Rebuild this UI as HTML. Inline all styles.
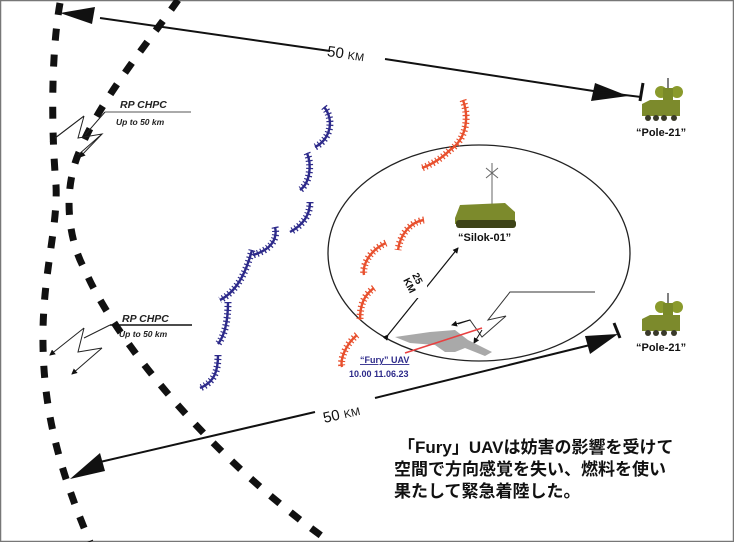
<!DOCTYPE html>
<html><head><meta charset="utf-8"><style>
html,body{margin:0;padding:0;background:#fff}
svg{display:block}
.jp{font-family:"Liberation Sans","Noto Sans CJK JP",sans-serif;font-weight:bold;font-size:17px;fill:#111}
.lb{font-family:"Liberation Sans",sans-serif;font-weight:bold;font-size:11px;fill:#111}
.it{font-family:"Liberation Sans",sans-serif;font-style:italic;font-weight:bold;fill:#222}
</style></head><body>
<svg width="734" height="542" viewBox="0 0 734 542" xmlns="http://www.w3.org/2000/svg">
<rect x="0.5" y="0.5" width="733" height="541" fill="#fff" stroke="#777" stroke-width="1.5"/>
<defs>
<marker id="sa" markerWidth="6" markerHeight="6" refX="5" refY="3" orient="auto" markerUnits="userSpaceOnUse"><path d="M0,0 L6,3 L0,6z" fill="#111"/></marker>
</defs>
<!-- dashed curves -->
<g fill="none" stroke="#111" stroke-width="7" stroke-dasharray="12 14">
<path d="M60,3 C50,60 52,140 56,185 C58,225 44,270 43,330 C42,400 55,460 90,542"/>
<path d="M178,0 C150,40 100,100 80,150 C62,190 68,240 85,270 C110,330 200,450 330,542"/>
</g>
<!-- top 50 km arrow -->
<line x1="100" y1="18" x2="330" y2="51" stroke="#111" stroke-width="2"/>
<line x1="385" y1="59" x2="600" y2="92" stroke="#111" stroke-width="2"/>
<path d="M60,13 L95,7 L92,24z" fill="#111"/>
<path d="M628,96 L595,83 L591,101z" fill="#111"/>
<line x1="643" y1="83" x2="640" y2="101" stroke="#111" stroke-width="3"/>
<line x1="600" y1="92" x2="641" y2="97" stroke="#111" stroke-width="2"/>
<text x="327" y="60" transform="rotate(8 355 55)" font-family="Liberation Sans,sans-serif" font-size="15" fill="#111">50 <tspan font-size="11">KM</tspan></text>
<!-- bottom 50 km arrow -->
<line x1="100" y1="462" x2="315" y2="412" stroke="#111" stroke-width="2"/>
<line x1="375" y1="398" x2="590" y2="345" stroke="#111" stroke-width="2"/>
<path d="M70,479 L100,453 L105,471z" fill="#111"/>
<path d="M618,334 L585,336 L590,354z" fill="#111"/>
<line x1="614" y1="323" x2="620" y2="338" stroke="#111" stroke-width="3"/>
<text x="322" y="418" transform="rotate(-13 345 410)" font-family="Liberation Sans,sans-serif" font-size="15" fill="#111">50 <tspan font-size="11">KM</tspan></text>
<!-- RP CHPC top -->
<text x="120" y="108" class="it" font-size="10.5">RP CHPC</text>
<line x1="105" y1="112" x2="191" y2="112" stroke="#555" stroke-width="1"/>
<text x="116" y="125" class="it" font-size="8.5">Up to 50 km</text>
<path d="M105,112 L85,135 M84,116 L78,138 L102,134 L78,155 M84,116 L50,142" fill="none" stroke="#222" stroke-width="1" />
<line x1="84" y1="116" x2="51" y2="141" stroke="#222" stroke-width="1" marker-end="url(#sa)"/>
<line x1="102" y1="134" x2="80" y2="157" stroke="#222" stroke-width="1" marker-end="url(#sa)"/>
<!-- RP CHPC bottom -->
<text x="122" y="322" class="it" font-size="10.5">RP CHPC</text>
<line x1="110" y1="325" x2="192" y2="325" stroke="#111" stroke-width="1.5"/>
<text x="119" y="337" class="it" font-size="8.5">Up to 50 km</text>
<line x1="110" y1="325" x2="84" y2="338" stroke="#222" stroke-width="1"/>
<path d="M84,328 L78,352 L102,348" fill="none" stroke="#222" stroke-width="1"/>
<line x1="84" y1="328" x2="50" y2="355" stroke="#222" stroke-width="1" marker-end="url(#sa)"/>
<line x1="102" y1="348" x2="72" y2="374" stroke="#222" stroke-width="1" marker-end="url(#sa)"/>
<!-- purple arcs -->
<g fill="none" stroke="#2d2a8a">
<g stroke-width="2.4">
<path d="M324,107 C335,120 330,140 315,147"/>
<path d="M307,153 C312,165 310,183 300,190"/>
<path d="M310,202 C310,215 303,225 290,232"/>
<path d="M275,227 C278,240 270,250 253,255"/>
<path d="M252,250 C248,265 240,290 220,300"/>
<path d="M228,302 C228,320 225,335 218,344"/>
<path d="M218,355 C218,370 215,382 200,388"/>
</g>
<g stroke-width="7" stroke-dasharray="1.2 2.6">
<path d="M324,107 C335,120 330,140 315,147"/>
<path d="M307,153 C312,165 310,183 300,190"/>
<path d="M310,202 C310,215 303,225 290,232"/>
<path d="M275,227 C278,240 270,250 253,255"/>
<path d="M252,250 C248,265 240,290 220,300"/>
<path d="M228,302 C228,320 225,335 218,344"/>
<path d="M218,355 C218,370 215,382 200,388"/>
</g>
</g>
<!-- ellipse -->
<ellipse cx="479" cy="253" rx="151" ry="108" fill="none" stroke="#222" stroke-width="1.3"/>
<!-- red arcs -->
<g fill="none" stroke="#e8502e">
<g stroke-width="2.4">
<path d="M463,100 C470,120 465,140 450,150 C440,160 430,165 422,168"/>
<path d="M424,220 C410,222 400,235 398,250"/>
<path d="M386,243 C370,250 362,265 364,275"/>
<path d="M374,288 C364,295 360,305 360,320"/>
<path d="M357,335 C345,345 340,360 342,367"/>
</g>
<g stroke-width="7" stroke-dasharray="1.2 2.6">
<path d="M463,100 C470,120 465,140 450,150 C440,160 430,165 422,168"/>
<path d="M424,220 C410,222 400,235 398,250"/>
<path d="M386,243 C370,250 362,265 364,275"/>
<path d="M374,288 C364,295 360,305 360,320"/>
<path d="M357,335 C345,345 340,360 342,367"/>
</g>
</g>
<!-- Silok-01 vehicle -->
<line x1="492" y1="165" x2="492" y2="205" stroke="#666" stroke-width="1"/>
<path d="M486,168 L498,178 M498,168 L486,178 M492,163 L492,180" stroke="#666" stroke-width="1"/>
<path d="M455,218 L460,205 L505,203 L515,212 L515,222 L455,224z" fill="#7c8a2c"/>
<rect x="456" y="220" width="60" height="8" rx="3" fill="#3e4418"/>
<text x="458" y="241" class="lb" font-size="11.5">“Silok-01”</text>
<!-- 25 km arrow -->
<line x1="388" y1="335" x2="458" y2="248" stroke="#111" stroke-width="1.2" marker-start="url(#sa)" marker-end="url(#sa)"/>
<rect x="405" y="268" width="22" height="30" fill="#fff"/>
<text transform="translate(412,275) rotate(63)" font-family="Liberation Sans,sans-serif" font-weight="bold" font-size="10" fill="#111">25</text>
<text transform="translate(403,280) rotate(63)" font-family="Liberation Sans,sans-serif" font-weight="bold" font-size="10" fill="#111">KM</text>
<!-- jamming zigzag near UAV -->
<path d="M595,292 L510,292 L488,320 L506,316 L482,337 L470,320 L458,324" fill="none" stroke="#333" stroke-width="1"/>
<line x1="482" y1="330" x2="474" y2="343" stroke="#111" stroke-width="1" marker-end="url(#sa)"/>
<line x1="470" y1="320" x2="452" y2="325" stroke="#111" stroke-width="1" marker-end="url(#sa)"/>
<!-- UAV -->
<path d="M395,337 L430,332 L455,330 L468,340 L492,352 L485,356 L465,348 L455,352 L445,352 L435,345 L410,343z" fill="#9a9a9a" opacity="0.85"/>
<line x1="405" y1="353" x2="482" y2="328" stroke="#e84040" stroke-width="1.5"/>
<text x="360" y="363" font-family="Liberation Sans,sans-serif" font-weight="bold" font-size="9" fill="#2d2a8a" text-decoration="underline">“Fury” UAV</text>
<text x="349" y="377" font-family="Liberation Sans,sans-serif" font-weight="bold" font-size="9" fill="#2d2a8a">10.00 11.06.23</text>
<!-- Pole-21 vehicles -->
<g id="pole">
<line x1="668" y1="78" x2="668" y2="92" stroke="#555" stroke-width="1.5"/>
<circle cx="661" cy="92" r="6" fill="#8a9a2c"/>
<circle cx="677" cy="92" r="6" fill="#8a9a2c"/>
<rect x="663" y="88" width="10" height="14" fill="#7a8a28"/>
<path d="M642,104 L650,100 L680,100 L680,116 L642,116z" fill="#7c8a2c"/>
<circle cx="648" cy="118" r="3" fill="#3a3a2a"/><circle cx="656" cy="118" r="3" fill="#3a3a2a"/><circle cx="664" cy="118" r="3" fill="#3a3a2a"/><circle cx="674" cy="118" r="3" fill="#3a3a2a"/>
<text x="636" y="136" class="lb" font-size="11.5">“Pole-21”</text>
</g>
<use href="#pole" transform="translate(0,215)"/>
<!-- Japanese caption -->
<text class="jp" x="398" y="453">「Fury」UAVは妨害の影響を受けて</text>
<text class="jp" x="394" y="475">空間で方向感覚を失い、燃料を使い</text>
<text class="jp" x="394" y="497">果たして緊急着陸した。</text>
</svg>
</body></html>
